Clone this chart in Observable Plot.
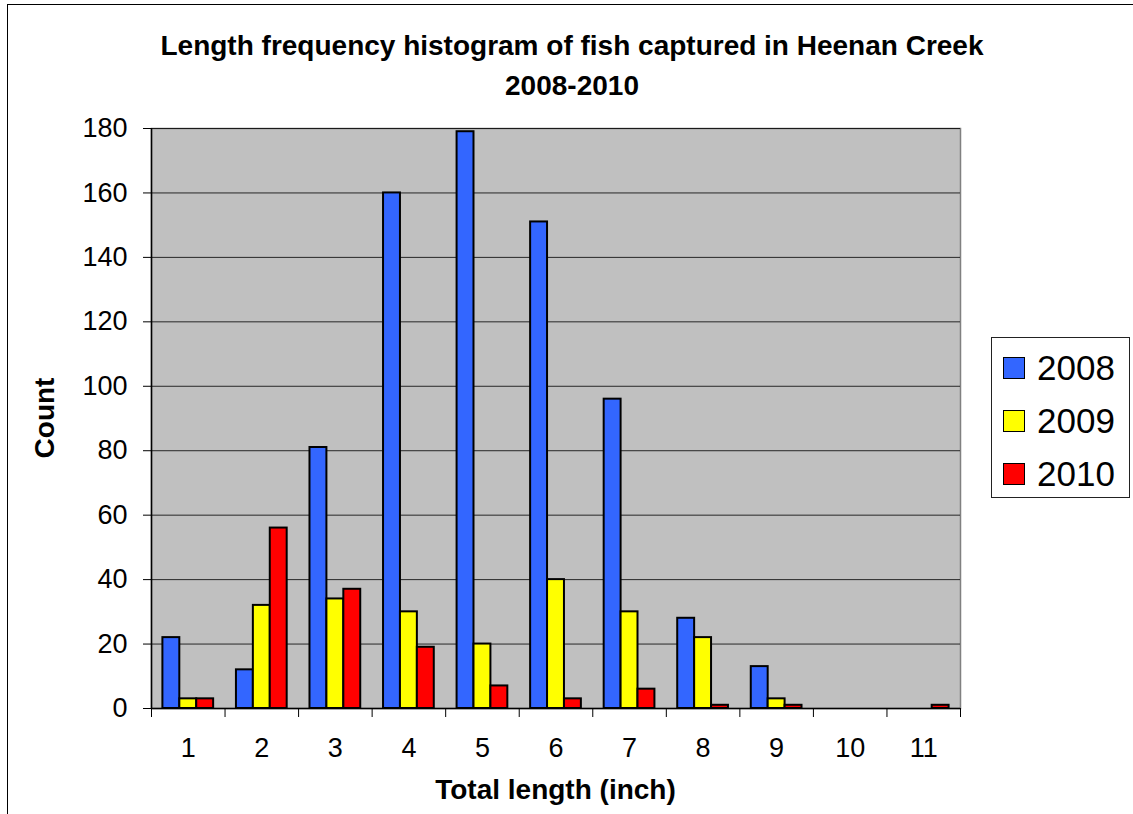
<!DOCTYPE html>
<html>
<head>
<meta charset="utf-8">
<script src="https://cdn.jsdelivr.net/npm/d3@7"></script>
<script src="https://cdn.jsdelivr.net/npm/@observablehq/plot@0.6"></script>
<style>
  html, body { margin: 0; padding: 0; background: #fff; }
  body { font-family: "Liberation Sans", Arial, sans-serif; }
  #chart { position: relative; width: 1133px; height: 814px; overflow: hidden; }
  #border { position: absolute; left: 7px; top: 4px; width: 1200px; height: 900px; border-left: 1.5px solid #000; border-top: 1.5px solid #000; }
  #title { position: absolute; left: 12px; width: 1120px; top: 26px; text-align: center; font-weight: bold; font-size: 28px; line-height: 40px; }
  #plot { position: absolute; left: 0; top: 100px; }
  #xlabel { position: absolute; left: 151px; width: 809px; top: 773px; text-align: center; font-weight: bold; font-size: 28px; line-height: 34px; }
  #ylabel { position: absolute; left: 45px; top: 418px; transform: translate(-50%, -50%) rotate(-90deg); font-weight: bold; font-size: 28px; line-height: 30px; white-space: nowrap; }
  #legend { position: absolute; left: 991px; top: 337px; width: 137px; height: 159px; border: 1px solid #222; background: #fff; }
  .item { position: absolute; left: 11px; height: 30px; display: flex; align-items: center; font-size: 35px; }
  .sw { width: 20px; height: 20px; border: 1px solid #000; margin-right: 12px; }
</style>
</head>
<body>
<div id="chart">
  <div id="border"></div>
  <div id="title">Length frequency histogram of fish captured in Heenan Creek<br>2008-2010</div>
  <div id="plot"></div>
  <div id="xlabel">Total length (inch)</div>
  <div id="ylabel">Count</div>
  <div id="legend"></div>
</div>
<script>
const lengths = [1, 2, 3, 4, 5, 6, 7, 8, 9, 10, 11];
const years = ["2008", "2009", "2010"];
const count2008 = [22, 12, 81, 160, 179, 151, 96, 28, 13, 0, 0];
const count2009 = [3, 32, 34, 30, 20, 40, 30, 22, 3, 0, 0];
const count2010 = [3, 56, 37, 19, 7, 3, 6, 1, 1, 0, 1];
const colors = ["#3366FF", "#FFFF00", "#FF0000"];
const yTicks = [0, 20, 40, 60, 80, 100, 120, 140, 160, 180];

const series = [count2008, count2009, count2010];
const groupWidth = 0.69;              // share of one category occupied by the 3 bars
const barWidth = groupWidth / years.length;

const rows = [];
lengths.forEach((len, i) => {
  years.forEach((yr, j) => {
    const c = series[j][i];
    if (c > 0) {
      const x1 = len - groupWidth / 2 + j * barWidth;
      rows.push({length: len, year: yr, count: c, x1, x2: x1 + barWidth});
    }
  });
});
const boundaries = [lengths[0] - 0.5, ...lengths.map(d => d + 0.5)];

const chart = Plot.plot({
  width: 1133,
  height: 714,
  marginTop: 28,
  marginBottom: 106,
  marginLeft: 151,
  marginRight: 173,
  x: {type: "linear", domain: [boundaries[0], boundaries[boundaries.length - 1]]},
  y: {domain: [0, 180]},
  color: {domain: years, range: colors},
  style: {fontFamily: "'Liberation Sans', Arial, sans-serif", fontSize: "26px", color: "#000", background: "transparent", overflow: "visible"},
  marks: [
    Plot.frame({fill: "#C0C0C0", stroke: "#808080", strokeWidth: 1.5}),
    Plot.gridY(yTicks, {stroke: "#000", strokeOpacity: 0.8, strokeWidth: 1}),
    Plot.rect(rows, {x1: "x1", x2: "x2", y1: 0, y2: "count", fill: "year", stroke: "#000", strokeWidth: 2}),
    Plot.ruleY([0], {stroke: "#000", strokeWidth: 1.5}),
    Plot.ruleX([boundaries[0]], {stroke: "#000", strokeWidth: 1.5}),
    Plot.axisY(yTicks, {tickSize: 8, tickPadding: 16, label: null, fontSize: 27, tickFormat: d => String(d)}),
    Plot.axisX(boundaries, {tickSize: 9, tickFormat: () => "", label: null}),
    Plot.axisX(lengths, {tickSize: 0, tickPadding: 29, label: null, fontSize: 27, tickFormat: d => String(d)})
  ]
});
document.getElementById("plot").appendChild(chart);

const legend = document.getElementById("legend");
years.forEach((yr, j) => {
  const item = document.createElement("div");
  item.className = "item";
  item.style.top = (352 - 337 + j * 53) + "px";
  const sw = document.createElement("div");
  sw.className = "sw";
  sw.style.background = colors[j];
  const t = document.createElement("span");
  t.textContent = yr;
  item.appendChild(sw);
  item.appendChild(t);
  legend.appendChild(item);
});
</script>
</body>
</html>
